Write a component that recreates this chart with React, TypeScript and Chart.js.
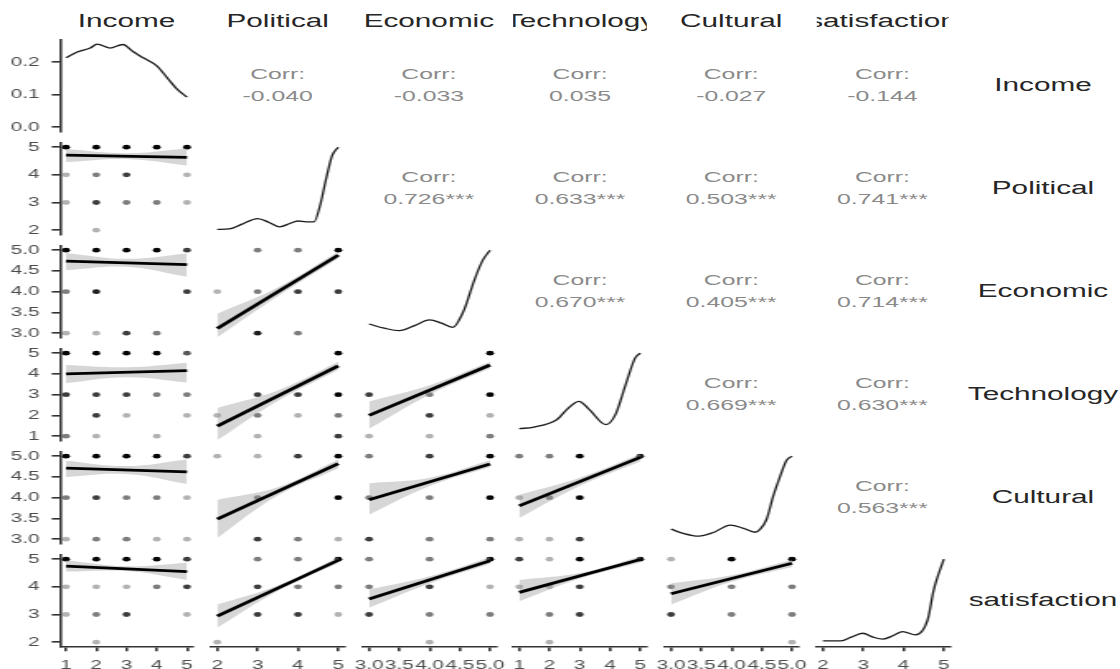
import React, { useEffect, useRef } from "react";
import { Chart, registerables } from "chart.js";

Chart.register(...registerables);
Chart.defaults.font.family = "'Liberation Sans', Arial, sans-serif";

// ---------------- data ----------------
const variables = ["Income", "Political", "Economic", "Technology", "Cultural", "satisfaction"];

const incomeTicks = ["1", "2", "3", "4", "5"];
const politicalTicks = ["2", "3", "4", "5"];
const economicTicks = ["3.0", "3.5", "4.0", "4.5", "5.0"];
const technologyTicks = ["1", "2", "3", "4", "5"];
const culturalTicks = ["3.0", "3.5", "4.0", "4.5", "5.0"];
const satisfactionTicks = ["2", "3", "4", "5"];
const densityTicks = ["0.0", "0.1", "0.2"];
const axisTicks = [incomeTicks, politicalTicks, economicTicks, technologyTicks, culturalTicks, satisfactionTicks];

// diagonal densities [x, density]
const incomeDensity = [[1, 0.213], [1.37, 0.231], [1.8, 0.243], [2.03, 0.255], [2.45, 0.243], [2.88, 0.254], [3.2, 0.233], [3.55, 0.213], [4.0, 0.188], [4.34, 0.152], [4.67, 0.117], [5, 0.092]];
// relative densities (0 = lowest, 1 = highest)
const politicalDensity = [[2, 0.01], [2.3, 0.015], [2.6, 0.07], [3.0, 0.14], [3.3, 0.09], [3.55, 0.04], [3.8, 0.08], [4.0, 0.11], [4.2, 0.1], [4.4, 0.1], [4.55, 0.3], [4.7, 0.62], [4.85, 0.9], [5, 1.0]];
const economicDensity = [[3, 0.11], [3.25, 0.06], [3.5, 0.03], [3.75, 0.09], [4.0, 0.16], [4.2, 0.12], [4.38, 0.07], [4.57, 0.28], [4.74, 0.64], [4.88, 0.88], [5, 1.0]];
const technologyDensity = [[1, 0.09], [1.49, 0.11], [2.25, 0.2], [2.57, 0.32], [2.97, 0.42], [3.32, 0.32], [3.86, 0.14], [4.18, 0.26], [4.5, 0.6], [4.83, 0.94], [5, 1.0]];
const culturalDensity = [[3, 0.12], [3.2, 0.07], [3.46, 0.036], [3.7, 0.08], [3.98, 0.17], [4.2, 0.13], [4.39, 0.083], [4.475, 0.12], [4.58, 0.24], [4.69, 0.52], [4.8, 0.75], [4.91, 0.95], [5, 1.0]];
const satisfactionDensity = [[2, 0.015], [2.45, 0.015], [2.7, 0.06], [2.99, 0.107], [3.25, 0.06], [3.49, 0.036], [3.75, 0.08], [3.98, 0.127], [4.3, 0.087], [4.6, 0.27], [4.75, 0.63], [5, 1.0]];

// scatter points [x, y, overlapping count]
const politicalVsIncome = [[1, 5, 12], [2, 5, 12], [3, 5, 12], [4, 5, 12], [5, 5, 12], [1, 4, 1], [2, 4, 2], [3, 4, 4], [5, 4, 1], [1, 3, 1], [2, 3, 4], [3, 3, 2], [4, 3, 2], [5, 3, 1], [2, 2, 1]];
const economicVsIncome = [[1, 5, 12], [2, 5, 12], [3, 5, 12], [4, 5, 12], [5, 5, 4], [1, 4, 2], [2, 4, 6], [5, 4, 4], [1, 3, 1], [2, 3, 1], [3, 3, 4], [4, 3, 2]];
const technologyVsIncome = [[1, 5, 12], [2, 5, 12], [3, 5, 12], [4, 5, 12], [5, 5, 3], [1, 3, 4], [2, 3, 4], [3, 3, 4], [4, 3, 2], [5, 3, 2], [2, 2, 4], [3, 2, 1], [5, 2, 1], [1, 1, 2], [2, 1, 1], [4, 1, 1]];
const culturalVsIncome = [[1, 5, 12], [2, 5, 12], [3, 5, 12], [4, 5, 12], [5, 5, 4], [1, 4, 2], [2, 4, 4], [3, 4, 2], [4, 4, 2], [5, 4, 1], [1, 3, 1], [2, 3, 2], [3, 3, 2], [4, 3, 1], [5, 3, 1]];
const satisfactionVsIncome = [[1, 5, 12], [2, 5, 12], [3, 5, 12], [4, 5, 12], [5, 5, 4], [1, 4, 1], [2, 4, 1], [3, 4, 1], [4, 4, 2], [5, 4, 4], [1, 3, 1], [2, 3, 2], [3, 3, 4], [5, 3, 1], [2, 2, 1]];
const economicVsPolitical = [[3, 5, 2], [4, 5, 2], [5, 5, 12], [2, 4, 1], [3, 4, 2], [4, 4, 4], [5, 4, 4], [3, 3, 6], [4, 3, 2]];
const technologyVsPolitical = [[5, 5, 12], [3, 3, 4], [4, 3, 4], [5, 3, 12], [2, 2, 1], [3, 2, 2], [4, 2, 1], [5, 2, 2], [3, 1, 1], [5, 1, 4]];
const culturalVsPolitical = [[2, 5, 1], [3, 5, 1], [4, 5, 4], [5, 5, 12], [3, 4, 2], [5, 4, 12], [3, 3, 4], [4, 3, 2], [5, 3, 1]];
const satisfactionVsPolitical = [[3, 5, 2], [4, 5, 2], [5, 5, 12], [3, 4, 4], [4, 4, 2], [5, 4, 2], [3, 3, 4], [4, 3, 4], [5, 3, 1], [2, 2, 1]];
const technologyVsEconomic = [[5, 5, 12], [3, 3, 4], [4, 3, 2], [5, 3, 12], [4, 2, 4], [5, 2, 1], [3, 1, 1], [4, 1, 1], [5, 1, 2]];
const culturalVsEconomic = [[3, 5, 2], [4, 5, 4], [5, 5, 12], [3, 4, 2], [4, 4, 2], [5, 4, 12], [3, 3, 4], [4, 3, 2], [5, 3, 2]];
const satisfactionVsEconomic = [[3, 5, 2], [4, 5, 2], [5, 5, 12], [3, 4, 2], [4, 4, 4], [5, 4, 1], [3, 3, 4], [4, 3, 2], [5, 3, 2], [4, 2, 1]];
const culturalVsTechnology = [[1, 5, 2], [2, 5, 2], [3, 5, 12], [5, 5, 6], [1, 4, 1], [2, 4, 2], [3, 4, 12], [1, 3, 1], [2, 3, 1], [3, 3, 4]];
const satisfactionVsTechnology = [[1, 5, 4], [2, 5, 1], [3, 5, 12], [5, 5, 8], [1, 4, 1], [2, 4, 1], [3, 4, 4], [2, 3, 2], [3, 3, 4], [2, 2, 1]];
const satisfactionVsCultural = [[3, 5, 1], [4, 5, 12], [5, 5, 12], [3, 4, 2], [4, 4, 2], [5, 4, 2], [3, 3, 4], [4, 3, 2], [5, 3, 2], [5, 2, 1]];

// linear fits [x, y] and confidence bands [x, lower, upper]
const fitPoliticalIncome = [[1, 4.71], [5, 4.63]];
const bandPoliticalIncome = [[1, 4.46, 4.93], [3, 4.57, 4.78], [5, 4.33, 4.95]];
const fitEconomicIncome = [[1, 4.735], [5, 4.65]];
const bandEconomicIncome = [[1, 4.52, 4.93], [3, 4.6, 4.79], [5, 4.36, 4.92]];
const fitTechnologyIncome = [[1, 4.0], [5, 4.16]];
const bandTechnologyIncome = [[1, 3.56, 4.43], [3, 3.84, 4.32], [5, 3.59, 4.54]];
const fitCulturalIncome = [[1, 4.71], [5, 4.62]];
const bandCulturalIncome = [[1, 4.5, 4.89], [3, 4.57, 4.76], [5, 4.33, 4.92]];
const fitSatisfactionIncome = [[1, 4.75], [5, 4.55]];
const bandSatisfactionIncome = [[1, 4.55, 4.96], [3, 4.57, 4.74], [5, 4.25, 4.87]];
const fitEconomicPolitical = [[2, 3.11], [5, 4.88]];
const bandEconomicPolitical = [[2, 2.9, 3.47], [3.5, 3.89, 4.1], [5, 4.8, 4.96]];
const fitTechnologyPolitical = [[2, 1.48], [5, 4.39]];
const bandTechnologyPolitical = [[2, 0.81, 2.36], [3.5, 2.7, 3.2], [5, 4.19, 4.58]];
const fitCulturalPolitical = [[2, 3.48], [5, 4.82]];
const bandCulturalPolitical = [[2, 3.03, 3.95], [3.5, 4.05, 4.25], [5, 4.71, 4.92]];
const fitSatisfactionPolitical = [[2, 2.94], [5, 4.96]];
const bandSatisfactionPolitical = [[2, 2.52, 3.36], [3.5, 3.85, 4.05], [5, 4.86, 5.07]];
const fitTechnologyEconomic = [[3, 2.0], [5, 4.43]];
const bandTechnologyEconomic = [[3, 1.36, 2.67], [4, 3.0, 3.45], [5, 4.27, 4.58]];
const fitCulturalEconomic = [[3, 3.95], [5, 4.81]];
const bandCulturalEconomic = [[3, 3.59, 4.35], [4, 4.28, 4.48], [5, 4.74, 4.9]];
const fitSatisfactionEconomic = [[3, 3.56], [5, 4.94]];
const bandSatisfactionEconomic = [[3, 3.24, 3.9], [4, 4.12, 4.38], [5, 4.83, 5.07]];
const fitCulturalTechnology = [[1, 3.8], [5, 4.97]];
const bandCulturalTechnology = [[1, 3.51, 4.07], [3, 4.28, 4.48], [5, 4.87, 5.05]];
const fitSatisfactionTechnology = [[1, 3.8], [5, 4.99]];
const bandSatisfactionTechnology = [[1, 3.48, 4.25], [3, 4.3, 4.5], [5, 4.88, 5.1]];
const fitSatisfactionCultural = [[3, 3.75], [5, 4.85]];
const bandSatisfactionCultural = [[3, 3.36, 4.13], [4, 4.18, 4.42], [5, 4.72, 4.98]];

// correlations (upper triangle, row by row)
const corrIncome = ["-0.040", "-0.033", "0.035", "-0.027", "-0.144"];
const corrPolitical = ["0.726***", "0.633***", "0.503***", "0.741***"];
const corrEconomic = ["0.670***", "0.405***", "0.714***"];
const corrTechnology = ["0.669***", "0.630***"];
const corrCultural = ["0.563***"];
const corrRows = [corrIncome, corrPolitical, corrEconomic, corrTechnology, corrCultural];

const diagDensities = [incomeDensity, politicalDensity, economicDensity, technologyDensity, culturalDensity, satisfactionDensity];

const lowerPanels = [
  { row: 1, col: 0, points: politicalVsIncome, fit: fitPoliticalIncome, band: bandPoliticalIncome },
  { row: 2, col: 0, points: economicVsIncome, fit: fitEconomicIncome, band: bandEconomicIncome },
  { row: 3, col: 0, points: technologyVsIncome, fit: fitTechnologyIncome, band: bandTechnologyIncome },
  { row: 4, col: 0, points: culturalVsIncome, fit: fitCulturalIncome, band: bandCulturalIncome },
  { row: 5, col: 0, points: satisfactionVsIncome, fit: fitSatisfactionIncome, band: bandSatisfactionIncome },
  { row: 2, col: 1, points: economicVsPolitical, fit: fitEconomicPolitical, band: bandEconomicPolitical },
  { row: 3, col: 1, points: technologyVsPolitical, fit: fitTechnologyPolitical, band: bandTechnologyPolitical },
  { row: 4, col: 1, points: culturalVsPolitical, fit: fitCulturalPolitical, band: bandCulturalPolitical },
  { row: 5, col: 1, points: satisfactionVsPolitical, fit: fitSatisfactionPolitical, band: bandSatisfactionPolitical },
  { row: 3, col: 2, points: technologyVsEconomic, fit: fitTechnologyEconomic, band: bandTechnologyEconomic },
  { row: 4, col: 2, points: culturalVsEconomic, fit: fitCulturalEconomic, band: bandCulturalEconomic },
  { row: 5, col: 2, points: satisfactionVsEconomic, fit: fitSatisfactionEconomic, band: bandSatisfactionEconomic },
  { row: 4, col: 3, points: culturalVsTechnology, fit: fitCulturalTechnology, band: bandCulturalTechnology },
  { row: 5, col: 3, points: satisfactionVsTechnology, fit: fitSatisfactionTechnology, band: bandSatisfactionTechnology },
  { row: 5, col: 4, points: satisfactionVsCultural, fit: fitSatisfactionCultural, band: bandSatisfactionCultural },
];

// ---------------- layout ----------------
const SX = 1.65; // horizontal stretch of the whole figure
const M = 14;
const colLeft = (c: number) => (59.95 + 151.2 * c) / SX;
const PW = 133.1 / SX;
const rowTop = (r: number) => 39.85 + 103 * r;
const PH = 91.3;
const AXW = 59.95 / SX;
const AXH = 28;
const FONT = "'Liberation Sans', Arial, sans-serif";

function expand(lo: number, hi: number): [number, number] {
  const p = (hi - lo) * 0.05;
  return [lo - p, hi + p];
}
function varRange(i: number): [number, number] {
  const t = axisTicks[i];
  return expand(parseFloat(t[0]), parseFloat(t[t.length - 1]));
}
const pointColor = (n: number) => `rgba(0,0,0,${(1 - Math.pow(0.7, n)).toFixed(3)})`;

function axisOptions(show: boolean, range: [number, number], labels: string[], horizontal: boolean) {
  return {
    type: "linear" as const,
    min: range[0],
    max: range[1],
    display: show,
    afterBuildTicks: (scale: any) => {
      scale.ticks = labels.map((l) => ({ value: parseFloat(l) }));
    },
    afterFit: (scale: any) => {
      if (show) {
        if (horizontal) scale.height = AXH;
        else scale.width = AXW;
      }
      scale.paddingTop = 0;
      scale.paddingBottom = 0;
      scale.paddingLeft = 0;
      scale.paddingRight = 0;
    },
    grid: { display: true, drawOnChartArea: false, drawTicks: true, tickLength: 5, color: "#333333", lineWidth: 1.6 },
    border: { display: true, color: "#333333", width: 1.6 },
    ticks: {
      callback: (_v: any, i: number) => labels[i],
      autoSkip: false,
      maxRotation: 0,
      minRotation: 0,
      padding: horizontal ? 7 : 7.5,
      color: "#4d4d4d",
      font: { size: 12.5, family: FONT },
    },
  };
}

function buildDatasets(row: number, col: number): { datasets: any[]; yRange: [number, number]; yLabels: string[] } {
  if (row === col) {
    const d = diagDensities[row];
    const ds = {
      data: d.map(([x, y]) => ({ x, y })),
      showLine: true,
      borderColor: "#1a1a1a",
      borderWidth: 1.3,
      pointRadius: 0,
      cubicInterpolationMode: "monotone",
    };
    if (row === 0) {
      const maxD = Math.max(...d.map((p) => p[1]));
      return { datasets: [ds], yRange: expand(0, maxD), yLabels: densityTicks };
    }
    return { datasets: [ds], yRange: expand(0, 1), yLabels: [] };
  }
  const p = lowerPanels.find((q) => q.row === row && q.col === col)!;
  return {
    yRange: varRange(row),
    yLabels: axisTicks[row],
    datasets: [
      { data: p.fit.map(([x, y]) => ({ x, y })), showLine: true, borderColor: "#000000", borderWidth: 2.8, pointRadius: 0, order: 0 },
      { data: p.band.map(([x, lo]) => ({ x, y: lo })), showLine: true, borderWidth: 0, borderColor: "rgba(0,0,0,0)", pointRadius: 0, tension: 0.4, fill: false, order: 1 },
      { data: p.band.map(([x, , hi]) => ({ x, y: hi })), showLine: true, borderWidth: 0, borderColor: "rgba(0,0,0,0)", pointRadius: 0, tension: 0.4, fill: "-1", backgroundColor: "rgba(153,153,153,0.4)", order: 1 },
      { data: p.points.map(([x, y]) => ({ x, y })), showLine: false, pointRadius: 2.4, pointBorderWidth: 0, pointBackgroundColor: p.points.map((q) => pointColor(q[2])), order: 2 },
    ],
  };
}

function Panel({ row, col }: { row: number; col: number }) {
  const ref = useRef<HTMLCanvasElement>(null);
  const extraL = col === 0 ? AXW : 0;
  const extraB = row === 5 ? AXH : 0;
  const left = colLeft(col) - M - extraL;
  const top = rowTop(row) - M;
  const W = Math.ceil(PW + 2 * M + extraL);
  const H = Math.ceil(PH + 2 * M + extraB);
  const padRight = W - M - extraL - PW;
  const padBottom = H - M - PH - extraB;

  useEffect(() => {
    if (!ref.current) return;
    const { datasets, yRange, yLabels } = buildDatasets(row, col);
    const chart = new Chart(ref.current, {
      type: "scatter",
      data: { datasets },
      options: {
        animation: false,
        responsive: false,
        events: [],
        layout: { padding: { left: M, top: M, right: padRight, bottom: padBottom } },
        plugins: { legend: { display: false }, tooltip: { enabled: false } },
        scales: {
          x: axisOptions(row === 5, varRange(col), axisTicks[col], true) as any,
          y: axisOptions(col === 0, yRange, yLabels, false) as any,
        },
      },
    });
    return () => chart.destroy();
  }, [row, col]);

  return (
    <canvas
      ref={ref}
      width={W}
      height={H}
      style={{ position: "absolute", left, top, width: W, height: H }}
    />
  );
}

export default function App() {
  const panels: { row: number; col: number }[] = [];
  for (let r = 0; r < 6; r++) for (let c = 0; c <= r; c++) panels.push({ row: r, col: c });

  const corrTexts: JSX.Element[] = [];
  corrRows.forEach((vals, r) => {
    vals.forEach((v, k) => {
      const c = r + 1 + k;
      corrTexts.push(
        <div
          key={`corr-${r}-${c}`}
          style={{
            position: "absolute",
            left: colLeft(c),
            top: rowTop(r),
            width: PW,
            height: PH,
            display: "flex",
            alignItems: "center",
            justifyContent: "center",
            textAlign: "center",
            fontSize: 15,
            lineHeight: "22px",
            color: "#8a8a8a",
            whiteSpace: "nowrap",
          }}
        >
          <div>
            <div>Corr:</div>
            <div>{v}</div>
          </div>
        </div>
      );
    });
  });

  return (
    <div
      style={{
        position: "fixed",
        left: 0,
        top: 0,
        width: 1120 / SX,
        height: 669,
        overflow: "hidden",
        background: "#ffffff",
        transform: `scaleX(${SX})`,
        transformOrigin: "0 0",
        fontFamily: FONT,
      }}
    >
      {variables.map((v, c) => (
        <div
          key={`top-${v}`}
          style={{
            position: "absolute",
            left: colLeft(c),
            top: 11,
            width: PW,
            height: 20.5,
            lineHeight: "20.5px",
            fontSize: 18,
            color: "#262626",
            textAlign: "center",
            whiteSpace: "nowrap",
            overflow: "hidden",
            display: "flex",
            justifyContent: "center",
          }}
        >
          <span style={{ flex: "none" }}>{v}</span>
        </div>
      ))}
      {variables.map((v, r) => (
        <div
          key={`right-${v}`}
          style={{
            position: "absolute",
            left: 960 / SX,
            top: rowTop(r),
            width: 166 / SX,
            height: PH,
            display: "flex",
            alignItems: "center",
            justifyContent: "center",
            fontSize: 18,
            color: "#262626",
            whiteSpace: "nowrap",
          }}
        >
          <span style={{ flex: "none" }}>{v}</span>
        </div>
      ))}
      {corrTexts}
      {panels.map((p) => (
        <Panel key={`p-${p.row}-${p.col}`} row={p.row} col={p.col} />
      ))}
    </div>
  );
}
